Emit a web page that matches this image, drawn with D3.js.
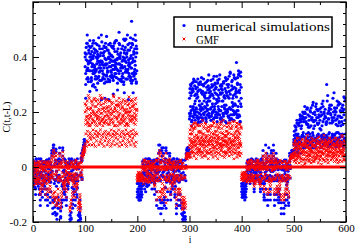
<!DOCTYPE html>
<html>
<head>
<meta charset="utf-8">
<script src="https://cdn.jsdelivr.net/npm/d3@7"></script>
<style>
  body { margin: 0; background: #fff; }
  svg { display: block; }
  text { font-family: "Liberation Serif", "Times New Roman", serif; fill: #000; }
</style>
</head>
<body>
<svg id="chart" width="357" height="245"></svg>
<script>
// values: one string per block of 100 in i, one char per point.
// C = base of the block + (char code - 35) * 0.005, so '#' is the base, 'K' is base + 0.2
const blueBase = [-0.2, 0.2, -0.2, 0.1, -0.2, 0];
const gmfBase = [-0.2, 0, -0.2, 0, -0.2, 0];

const blueRunA = [
  "H?MBJ;DOFANC7E3QG>9KBM@I7FPC3JOEJ5@LWD-Y[?.N(H%C5OEYA&P3=WH8Q7CL3>K;GND#P&H<-M7B?3NF7QA#J'-#GUBWY[]_",
  "K?R;UC9NHWAM<SFJ7QD@UB;OHK=SEAN:VG?LC8RFI=PA;TJ9MDS>EK:QBVG?<OJA;UFLC:QD?I7NWHB;K@TE=PJ<ReG:XM>QE?SA",
  "9?5;7A3=9?OC>L;EQA=HDNAIEP@K;JKBO7DGM3QCJ[AWN-EY3GYO3B<WIDUNCMU@7PB;LFJD7NB-QA3L@J3NF-L#C'&P#AUWSYUX",
  "A4K8E1H;O6C?7M3IF0K<9G5P:D2J?BL3E>8NA6H4F:1K=C7Q9E5I@3L;G8R2D0J?6MB:H7<E8O4KA1S9G2N;C5P=7F[8L3R?E0TA",
  "=7?9;5A7=;NBLDEPHAGMAKIO;CJLFBKCPJ@G;NA?DWN7BL[HUC3KYBO7HWMAI[C3PLUB7NJ1E7OC-KALC-PF3MJ7BH1JSCUSWTUV",
  "7/A4;2E6-9C5I8?3F:1G9K4D7M2B<6H;3N8E5J?1A7O4G:L6C95H>2Q8D;K3M6B_9J4F<P3I8C;U5G:LE4N7A<R2H9K6D;P3I8U5"
];
const blueRunB = [
  "CO=KF7QA?HLA;G/PD?5NID=O3AL;/FBQ@1NCSK)[2L*AVE)P1@Q-C'N.>S;GA9NE/KM?BQL(C*OE0I9DP/AJ5<M$E*(&DRPUW[Z]",
  "D7MUBH;SGKRI:OA?WEN5=KFT8LC@QHC[HA<NS;JER>F9PKD:UA@LH<SE=OICWB8MF?TJA;E=SK9PD@XGN;BI?UF:LC?TH=NB[K9Q",
  "?7;3=5?9;7KGPB?LAEN=GQ>MBFLINCEL@;PBI/FOG-C3O)E1SK1D/LQ-@J9INAPE3OI?BQHN5=O)CK/EPA/JD)N%B**E%LSUYTWS",
  "6H;C0L9F3NJ5D:A7O2G?3M8E=1K6C;E:0I5G?R3B9N4D7J2A;LH3Q>6C9O5E8K2G?4M<A0N6C9I3F:T52J>A8R6D<HB5P;FS4K=I",
  "9;5?7=3;9?HAFOMBLIDQLCPG?KAEOMHODKLA?EQJKS?3AJ3EOI/DSLA3NQCHOWA/KEQN3DI5M3CK)OAIO)CJ/A>3NE5COJSUTWSU",
  "3:-7>1C5;08E3H5A:K2DF1J8C4N7@35L9A3G<R6EK2E8M5B;I4?6N1I9S3F74G:D7W2L8CJ5P9E3K6N;6B<S2H8D4QA9G5L2V7E;"
];
const blueRunC = [
  "PD@H<L?NBK=Q?K7CMJ;EO>HA;NBP7DFALC9GUH3WUB4PX=0M-DEUN+A1KY?3I;PA5FB=NEM%B%QA3D;KA9OC;LE(N)3%QOCSXU_[",
  "N-IA[<FPA2G9KD6UL?B;PA3JM<YG:LH,FQ;E>O-U9ZC@J,NG=IL<RB0HU?DWFI3QA]K:NE9HC<X1JR;MA[P,GD=YC8UJ1O@H;W8N",
  "5;9?3;7A5=FMBJGO9K?LLAEQCMGOAEIPL?CHM9NALUH[A1PW-DUH5NBYKF3PGBSK9LD=OIQ@;HL0EI7NHO7BJ1P(G%-C'KQXUWYU",
  "2E6J-G4:M8=1H9D4B/L6G;0K3F9O5C7A2M<9J4E?C1I6;O8G3K=7D0N5A?8J3H;E1L6C9PF/K7B4Q:D29M5H<1I7O6E3K8U5G0Q;",
  "?5;7=9;?5ABIPLCJ?NELIDLA9OGBQIDLIBOJ9GCPJ;L5?G;NQB7AOIE;PUDLHSB7INOA;PA9O;JC1IEKJ1BH7PC;@L/KULQTUSWT",
  "5=08@2:.B4A7F-D9H3<J2O6G;B5I9E@4K7F1P:D68I3Q6C9G5ME1K:A7O4J8H9C5S3F;N27M4G:D8Y5I2K8F4P6C;LG3N9B5M7S6"
];
const gmfRunA = [
  "LAGDNCIJEHFM?J;OD>=INB@K;EMN9GH@O;CISE5UWF5N/B1L;DDUK-M9AS?=O=BK9GLA?FE+N/FB5M=JB9OF=KD,M/5+GSBUUWYW",
  "KEPHSCMAUGBNJRFLDTIOHSAKGQEMBWPDJUFNCLHRETIOBKGSDMJQFLCVHNAPSGKDOIRBMFCNHTELAQJGMBPIVFKDSHFROCJMGUEL",
  "CEAGCFBDAENDKAHPBJEGFKCOEJBHDLMBGE>IOAHFKUASI5N;?KSJ;DN5BIPKJDQA;NJ?EMDN;HK3BM9JAO9JE3M/C11J/KSTQURS",
  "8>2A5;-?3C6@0:4B9/=7A3<8.E6;1?5B9-=3@7:0?6.A4;8C2=1:7B5-@9<3D4?1;8.A6:29=5C0<7?4;/A6:3D8-=7C1?9<4B2@",
  "CEBFDGCEBF@KNLBOIDKANCLE?JAMIPDKOAMI?FKCJSB=NDUJQA9KSCN=AQHODUJ9KBQM=FN7C;JO5EKBC5OJ9AM;DK7DPJRQSRTS",
  "*3(6+1/4,82-5)0.7$3,/6&4+1:3.(5,0.8*3-6'3)7/1,4.9+(5.2-6)0:37+4/2(5,8.1.6*3-0+4/,8)5.2'7-34.:+1/6,3("
];
const gmfRunB = [
  "EJ>MBGA?KLNC@H7LF>;JAOEI7CK?5NDLB9NEQG1W8M3ESH/O7CM3A/O5DQ?K@?NE5JOBGCL.C1OD7K?FN5BJ;?M.E31-EQISTWXY",
  "QBLGNDWFIAMHSCPEKJUDBOIFTHLCRGJUEMAQGNDKTCNHLFSBOIEJRDWKAMGPLFAPHUCJQEROGIDMSFKBCSKAQHNELTOHEPGTBQIM",
  "ADBFCEAGBDKJ?PBJLCOHAN@KFJLIDOJCN?KEA3PKJ5D9OUB7OJ9K7BN1IEAMCONE7JK=FBOA9JD/LE7KKC7OJ1B-K33C-JQSTSTR",
  "3;7.@1=5B9?2C6:-A8<40=5B9;3@/7C8:2?6-=4A6.<9A3D1;8@5=0:7?4B2/B8<3E6:-9=4@2;A7.C51?6D5:0<8@A:3=-B7;4?",
  "EBGCFADGCEKANIDJPLAFDLBOAKJ?NLOBIKEL=AJNKOD9MFQANJ7EOKB9NOAKNQB7JONE9DE9O=KA3NDKK3DO7IB=NE9DNKQSRTSR",
  "0.6,4(8*2-5+1/3)7.,4)4.8-2+6*0,1/5(3.7+26-0*4,8/1).3+7.1-5(42/6),4.0+8+5.1/3*7-28,3(6.1+5//2-9.4(6+1"
];
const gmfRunC = [
  "IEOBL?NCHABOBK9EMA?HJDNA?HBO;LNAL=EKOC7SRB9PUF5K3AISC1N7GVD;FANH;CM@JEJ-F3NA9L@DE=PC?IB1N17/NOERVTZV",
  "4;26=5:38<7:39>48;2=6:9<3;5>7:49;2<6=8:3;5<7:2>49;6=3:8<4;7>2:59<3=6;8:4>2;7<5:93=6;8>4:2<5;",
  "EBGADCFAEBILCOAINB@KLBOJ@MEKAIANL=DKP9BIKQCWN9I3;EQI=CPUAJ;MBKPF?NI@LCNB?KE5OD;JBK;PD5J,N/5D1KRUSTSU",
  "1,6*4/2.7+5-3)8.1,6/.4,2*7-5+36+2/.5)4-83.7,1*6/2-+5.3)8-1,47/2+6.3*5,.6-4/1+8.25,3.7)2-6/4*8,1.5+3-",
  "BFDAECGBFDIOBKEN@KPBLAOD=KIEANEPKB?NAJLCIQK;CJSIOL;IQ@O?BSIJBSI;NCOJ;LK;A?PK7DNBA7KO;EM?IB5KOCSRTSRU",
  "4'1-&3)0+2&5*1'4-/2(3%2.(6)1,'0+4&5/2'3*(2-)1+6&4.3*1%5,2(0-'4/1+3&6.25(2,)1-4'3*0.4&3+1/(2-'5+0)3,4"
];
const baseLine = [0, 600];            // the C = 0 reference line
const xMajor = [0, 100, 200, 300, 400, 500, 600];
const xMinor = [50, 150, 250, 350, 450, 550];
const yMajor = [-0.2, 0, 0.2, 0.4, 0.6];
const yLabels = [-0.2, 0, 0.2, 0.4];
const seriesNames = ["numerical simulations", "GMF"];

function decode(runs, base) {
  var pts = [];
  runs.forEach(function(s, seg) {
    for (var k = 0; k < s.length; k++) {
      pts.push({i: seg * 100 + k * 100 / s.length, c: base[seg] + (s.charCodeAt(k) - 35) * 0.005});
    }
  });
  return pts;
}

const sims = decode(blueRunA, blueBase).concat(decode(blueRunB, blueBase), decode(blueRunC, blueBase));
const gmf = decode(gmfRunA, gmfBase).concat(decode(gmfRunB, gmfBase), decode(gmfRunC, gmfBase));

const svg = d3.select("#chart");
svg.append("rect").attr("width", 357).attr("height", 245).attr("fill", "#fff");

const x = d3.scaleLinear().domain([0, 600]).range([33, 346]);
const y = d3.scaleLinear().domain([-0.2, 0.6]).range([222, 2]);

svg.append("clipPath").attr("id", "plotclip")
  .append("rect").attr("x", 33).attr("y", 2).attr("width", 313).attr("height", 220);

const plot = svg.append("g").attr("clip-path", "url(#plotclip)");

// simulations (blue dots)
plot.append("g").selectAll("circle").data(sims).join("circle")
  .attr("cx", function(d) { return x(d.i); })
  .attr("cy", function(d) { return y(d.c); })
  .attr("r", 1.6)
  .attr("fill", "#0000ff");

// zero line
plot.append("line")
  .attr("x1", x(baseLine[0])).attr("x2", x(baseLine[1]))
  .attr("y1", y(0)).attr("y2", y(0))
  .attr("stroke", "#ff0000").attr("stroke-width", 3);

// GMF (red crosses)
var cross = "M-1.4,-1.4L1.4,1.4M-1.4,1.4L1.4,-1.4";
plot.append("g").selectAll("path").data(gmf).join("path")
  .attr("transform", function(d) { return "translate(" + x(d.i) + "," + y(d.c) + ")"; })
  .attr("d", cross)
  .attr("stroke", "#ff0000").attr("stroke-width", 1).attr("fill", "none");

// axes, ticks pointing inwards on all four sides
function styleAxis(g) {
  g.select(".domain").remove();
  g.selectAll("line").attr("stroke", "#000").attr("stroke-width", 1);
  g.selectAll("text").attr("font-size", "11px").attr("font-family", "Liberation Serif, serif").attr("fill", "#000");
}
svg.append("g").attr("transform", "translate(0,222)")
  .call(d3.axisBottom(x).tickValues(xMajor).tickSize(-6).tickPadding(2).tickFormat(d3.format("d")))
  .call(styleAxis);
svg.append("g").attr("transform", "translate(0,222)")
  .call(d3.axisBottom(x).tickValues(xMinor).tickSize(-3).tickFormat(""))
  .call(styleAxis);
svg.append("g").attr("transform", "translate(0,2)")
  .call(d3.axisTop(x).tickValues(xMajor).tickSize(-6).tickFormat(""))
  .call(styleAxis);
svg.append("g").attr("transform", "translate(0,2)")
  .call(d3.axisTop(x).tickValues(xMinor).tickSize(-3).tickFormat(""))
  .call(styleAxis);

var yMinor = d3.range(-0.2, 0.6001, 0.04).filter(function(v) {
  return yMajor.every(function(m) { return Math.abs(m - v) > 1e-6; });
});
svg.append("g").attr("transform", "translate(33,0)")
  .call(d3.axisLeft(y).tickValues(yMajor).tickSize(-6).tickPadding(6)
    .tickFormat(function(d) { return yLabels.some(function(l) { return Math.abs(l - d) < 1e-6; }) ? String(+d.toFixed(1)) : ""; }))
  .call(styleAxis);
svg.append("g").attr("transform", "translate(33,0)")
  .call(d3.axisLeft(y).tickValues(yMinor).tickSize(-3).tickFormat(""))
  .call(styleAxis);
svg.append("g").attr("transform", "translate(346,0)")
  .call(d3.axisRight(y).tickValues(yMajor).tickSize(-6).tickFormat(""))
  .call(styleAxis);
svg.append("g").attr("transform", "translate(346,0)")
  .call(d3.axisRight(y).tickValues(yMinor).tickSize(-3).tickFormat(""))
  .call(styleAxis);

// frame
svg.append("rect").attr("x", 33).attr("y", 2).attr("width", 313).attr("height", 220)
  .attr("fill", "none").attr("stroke", "#000").attr("stroke-width", 1.3);

// axis titles
svg.append("text").attr("x", 190).attr("y", 242.6).attr("text-anchor", "middle")
  .attr("font-size", "9.5px").text("i");
svg.append("text").attr("transform", "translate(10,117) rotate(-90)").attr("text-anchor", "middle")
  .attr("font-size", "10px").text("C(t,t-L)");

// legend
var leg = svg.append("g");
leg.append("rect").attr("x", 174).attr("y", 17).attr("width", 158).attr("height", 30)
  .attr("fill", "#fff").attr("stroke", "#000").attr("stroke-width", 1.5);
leg.append("circle").attr("cx", 184).attr("cy", 25.5).attr("r", 1.6).attr("fill", "#0000ff");
leg.append("path").attr("transform", "translate(184,39)").attr("d", cross)
  .attr("stroke", "#ff0000").attr("stroke-width", 1).attr("fill", "none");
leg.append("text").attr("x", 196).attr("y", 30.5).attr("font-size", "12px")
  .attr("textLength", 134).attr("lengthAdjust", "spacingAndGlyphs").text(seriesNames[0]);
leg.append("text").attr("x", 196).attr("y", 44).attr("font-size", "12px")
  .attr("textLength", 23).attr("lengthAdjust", "spacingAndGlyphs").text(seriesNames[1]);
</script>
</body>
</html>
